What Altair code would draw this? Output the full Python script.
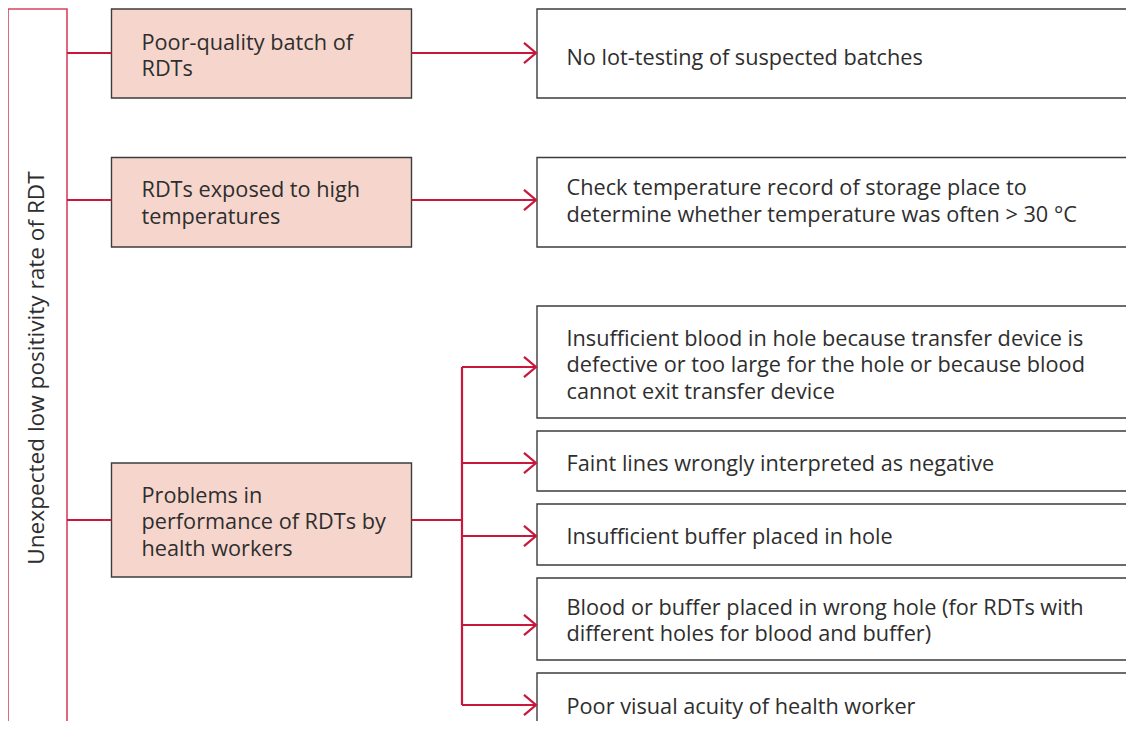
import altair as alt
import pandas as pd

# ---------------- content ----------------
root_label = "Unexpected low positivity rate of RDT"

cause_labels = [
    "Poor-quality batch of\nRDTs",
    "RDTs exposed to high\ntemperatures",
    "Problems in\nperformance of RDTs by\nhealth workers",
]

check_labels = [
    "No lot-testing of suspected batches",
    "Check temperature record of storage place to\ndetermine whether temperature was often > 30 \u00b0C",
    "Insufficient blood in hole because transfer device is\ndefective or too large for the hole or because blood\ncannot exit transfer device",
    "Faint lines wrongly interpreted as negative",
    "Insufficient buffer placed in hole",
    "Blood or buffer placed in wrong hole (for RDTs with\ndifferent holes for blood and buffer)",
    "Poor visual acuity of health worker",
]
check_parent = [0, 1, 2, 2, 2, 2, 2]

# ---------------- layout (page pixels) ----------------
W, H = 1118, 713
X0, Y0 = 8, 8
root_box = dict(x=8, x2=67, y=9, y2=800)
cause_x, cause_x2 = 111.5, 411.5
cause_top = [9, 157.5, 463]
cause_bot = [98, 247, 577]
cause_conn_y = [53, 200, 520]
check_x, check_x2 = 537, 1300
check_top = [9, 157.5, 306, 431, 504, 578, 673]
check_bot = [98, 247, 418, 491, 565, 660, 800]
check_mid = [57.5, 201.5, 365.5, 463.5, 536.5, 621, 706.5]
cause_mid = [56, 203.5, 522.5]
arrow_y = [53, 200, 367, 463, 536, 625, 705]
branch_x = 462
arrow_tip = 536

FONT = "Open Sans"
FS = 21.7
LH = 26.3
TXT = "#2e2e2e"
RED = "#c8173a"
PINK = "#d9435d"
FILL = "#f6d6cc"
EDGE = "#3c3c3c"

xs = alt.Scale(domain=[X0, X0 + W], range=[0, W], zero=False, nice=False)
ys = alt.Scale(domain=[Y0, Y0 + H], range=[0, H], zero=False, nice=False)


def X(f):
    return alt.X(f"{f}:Q", scale=xs, axis=None)


def Y(f):
    return alt.Y(f"{f}:Q", scale=ys, axis=None)


def first_line(mid, label):
    n = label.count("\n") + 1
    return mid - (n - 1) * LH / 2


root_df = pd.DataFrame([root_box])
cause_df = pd.DataFrame({
    "x": cause_x, "x2": cause_x2, "y": cause_top, "y2": cause_bot,
    "label": cause_labels,
    "ty": [first_line(m, l) for m, l in zip(cause_mid, cause_labels)],
    "tx": 141.5,
})
check_df = pd.DataFrame({
    "x": check_x, "x2": check_x2, "y": check_top, "y2": check_bot,
    "label": check_labels,
    "ty": [first_line(m, l) for m, l in zip(check_mid, check_labels)],
    "tx": 566.5,
})

# connector segments
segs = []
for cy in cause_conn_y:
    segs.append(dict(x=67, x2=cause_x, y=cy, y2=cy))
multi = [i for i, p in enumerate(check_parent) if p == 2]
for i, p in enumerate(check_parent):
    if p != 2:
        segs.append(dict(x=cause_x2, x2=arrow_tip, y=arrow_y[i], y2=arrow_y[i]))
    else:
        segs.append(dict(x=branch_x, x2=arrow_tip, y=arrow_y[i], y2=arrow_y[i]))
segs.append(dict(x=cause_x2, x2=branch_x, y=cause_conn_y[2], y2=cause_conn_y[2]))
segs.append(dict(x=branch_x, x2=branch_x, y=arrow_y[multi[0]], y2=arrow_y[multi[-1]]))
seg_df = pd.DataFrame(segs)

arrow_df = pd.DataFrame({"x": arrow_tip, "y": arrow_y})

root_rect = alt.Chart(root_df).mark_rect(
    fill=None, stroke=PINK, strokeWidth=1.6, clip=True
).encode(x=X("x"), x2="x2", y=Y("y"), y2="y2")

cause_rect = alt.Chart(cause_df).mark_rect(
    fill=FILL, stroke=EDGE, strokeWidth=1.4, clip=True
).encode(x=X("x"), x2="x2", y=Y("y"), y2="y2")

check_rect = alt.Chart(check_df).mark_rect(
    fill="white", stroke=EDGE, strokeWidth=1.4, clip=True
).encode(x=X("x"), x2="x2", y=Y("y"), y2="y2")

rules = alt.Chart(seg_df).mark_rule(
    color=RED, strokeWidth=2.2, clip=True
).encode(x=X("x"), x2="x2", y=Y("y"), y2="y2")

arrows = alt.Chart(arrow_df).mark_point(
    shape="M -1 -0.85 L 0 0 L -1 0.85",
    size=576, filled=False, stroke=RED, strokeWidth=2.2, opacity=1,
).encode(x=X("x"), y=Y("y"))

root_text = alt.Chart(pd.DataFrame({"label": [root_label], "tx": [37], "ty": [368]})).mark_text(
    angle=270, align="center", baseline="middle", font=FONT, fontSize=22.6, color=TXT
).encode(x=X("tx"), y=Y("ty"), text="label:N")

cause_text = alt.Chart(cause_df).mark_text(
    align="left", baseline="middle", lineBreak="\n", lineHeight=LH,
    font=FONT, fontSize=FS, color=TXT
).encode(x=X("tx"), y=Y("ty"), text="label:N")

check_text = alt.Chart(check_df).mark_text(
    align="left", baseline="middle", lineBreak="\n", lineHeight=LH,
    font=FONT, fontSize=FS, color=TXT
).encode(x=X("tx"), y=Y("ty"), text="label:N")

chart = alt.layer(
    root_rect, cause_rect, check_rect, rules, arrows, root_text, cause_text, check_text
).properties(
    width=W, height=H, padding=0, autosize=alt.AutoSizeParams(type="none"),
    background="white",
).configure_view(stroke=None)

chart.save("out.html", embed_options={"renderer": "svg", "actions": False})
